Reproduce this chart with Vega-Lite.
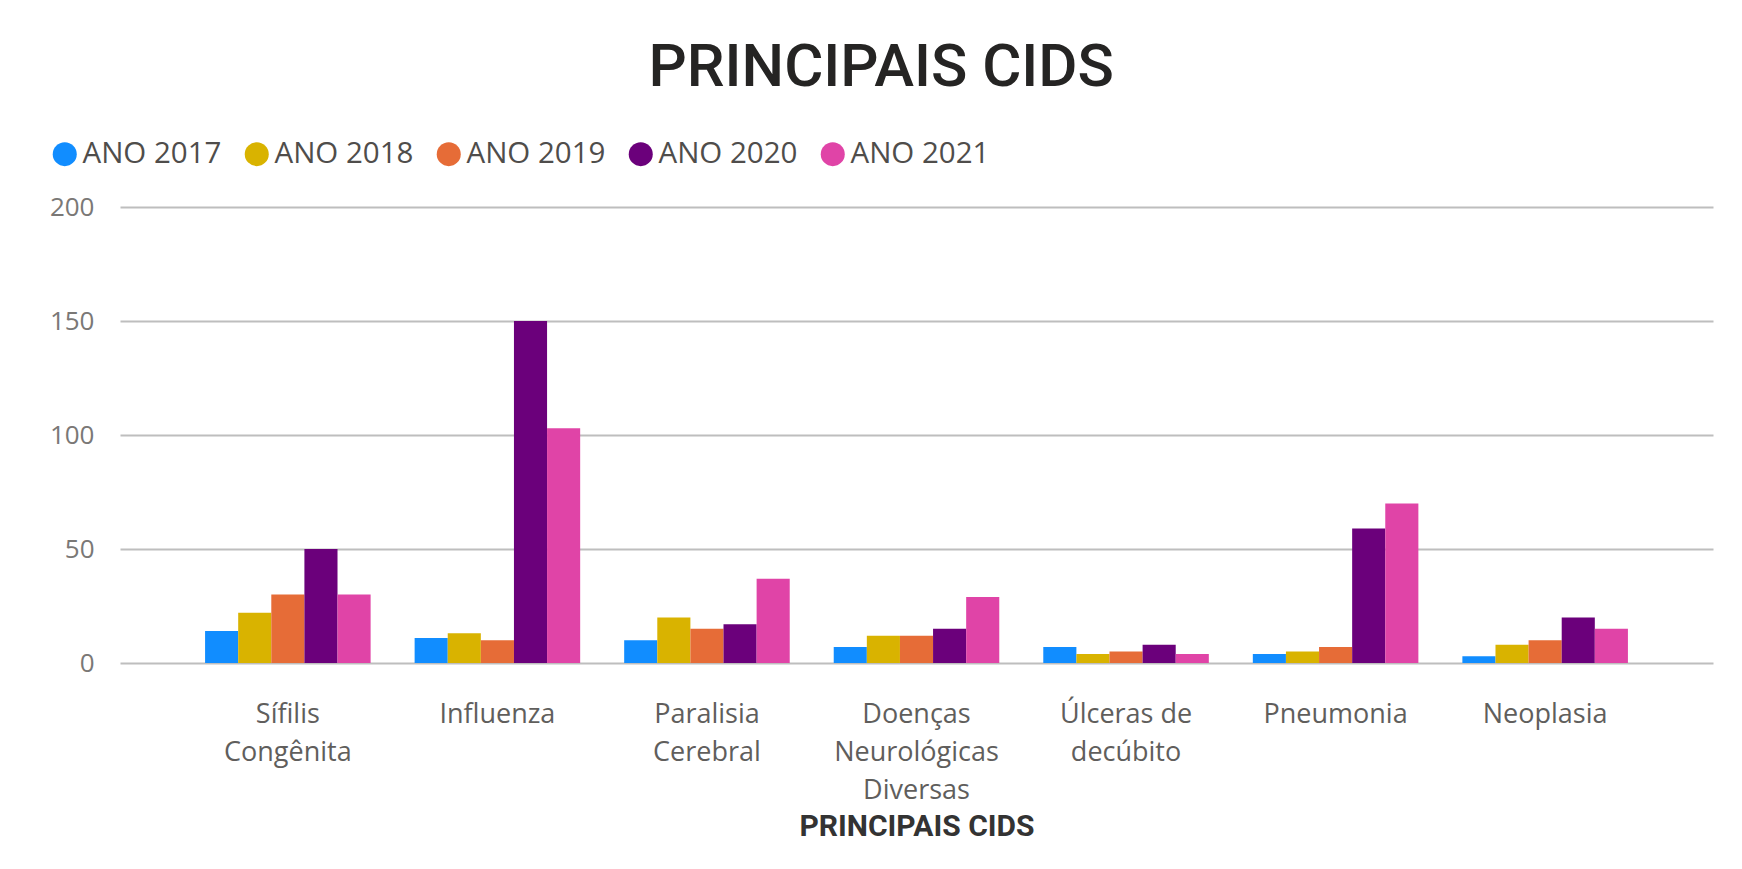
{
  "$schema": "https://vega.github.io/schema/vega-lite/v6.json",
  "width": 1593,
  "height": 456,
  "autosize": {"type": "none"},
  "padding": {"left": 120, "top": 207, "right": 29, "bottom": 206},
  "background": "white",
  "config": {"view": {"stroke": null}},
  "title": {"text": "PRINCIPAIS CIDS", "font": "Roboto", "fontSize": 60, "fontWeight": 500, "color": "#252423", "anchor": "middle", "frame": "bounds", "offset": 40},
  "data": {"values": [
    {"cid": "Sífilis Congênita", "ano": "ANO 2017", "valor": 14},
    {"cid": "Sífilis Congênita", "ano": "ANO 2018", "valor": 22},
    {"cid": "Sífilis Congênita", "ano": "ANO 2019", "valor": 30},
    {"cid": "Sífilis Congênita", "ano": "ANO 2020", "valor": 50},
    {"cid": "Sífilis Congênita", "ano": "ANO 2021", "valor": 30},
    {"cid": "Influenza", "ano": "ANO 2017", "valor": 11},
    {"cid": "Influenza", "ano": "ANO 2018", "valor": 13},
    {"cid": "Influenza", "ano": "ANO 2019", "valor": 10},
    {"cid": "Influenza", "ano": "ANO 2020", "valor": 150},
    {"cid": "Influenza", "ano": "ANO 2021", "valor": 103},
    {"cid": "Paralisia Cerebral", "ano": "ANO 2017", "valor": 10},
    {"cid": "Paralisia Cerebral", "ano": "ANO 2018", "valor": 20},
    {"cid": "Paralisia Cerebral", "ano": "ANO 2019", "valor": 15},
    {"cid": "Paralisia Cerebral", "ano": "ANO 2020", "valor": 17},
    {"cid": "Paralisia Cerebral", "ano": "ANO 2021", "valor": 37},
    {"cid": "Doenças Neurológicas Diversas", "ano": "ANO 2017", "valor": 7},
    {"cid": "Doenças Neurológicas Diversas", "ano": "ANO 2018", "valor": 12},
    {"cid": "Doenças Neurológicas Diversas", "ano": "ANO 2019", "valor": 12},
    {"cid": "Doenças Neurológicas Diversas", "ano": "ANO 2020", "valor": 15},
    {"cid": "Doenças Neurológicas Diversas", "ano": "ANO 2021", "valor": 29},
    {"cid": "Úlceras de decúbito", "ano": "ANO 2017", "valor": 7},
    {"cid": "Úlceras de decúbito", "ano": "ANO 2018", "valor": 4},
    {"cid": "Úlceras de decúbito", "ano": "ANO 2019", "valor": 5},
    {"cid": "Úlceras de decúbito", "ano": "ANO 2020", "valor": 8},
    {"cid": "Úlceras de decúbito", "ano": "ANO 2021", "valor": 4},
    {"cid": "Pneumonia", "ano": "ANO 2017", "valor": 4},
    {"cid": "Pneumonia", "ano": "ANO 2018", "valor": 5},
    {"cid": "Pneumonia", "ano": "ANO 2019", "valor": 7},
    {"cid": "Pneumonia", "ano": "ANO 2020", "valor": 59},
    {"cid": "Pneumonia", "ano": "ANO 2021", "valor": 70},
    {"cid": "Neoplasia", "ano": "ANO 2017", "valor": 3},
    {"cid": "Neoplasia", "ano": "ANO 2018", "valor": 8},
    {"cid": "Neoplasia", "ano": "ANO 2019", "valor": 10},
    {"cid": "Neoplasia", "ano": "ANO 2020", "valor": 20},
    {"cid": "Neoplasia", "ano": "ANO 2021", "valor": 15}
  ]},
  "mark": {"type": "bar"},
  "encoding": {
    "x": {
      "field": "cid", "type": "nominal", "sort": null,
      "scale": {"paddingInner": 0.21, "paddingOuter": 0.406},
      "axis": {
        "title": "PRINCIPAIS CIDS", "titleFont": "Roboto", "titleFontSize": 30, "titleFontWeight": "bold", "titleColor": "#333333", "titlePadding": 8,
        "labelAngle": 0, "labelFont": "Open Sans", "labelFontSize": 27, "labelColor": "#605E5C",
        "labelLineHeight": 38, "labelPadding": 38, "labelLimit": 400,
        "domain": false, "ticks": false, "tickSize": 0, "grid": false,
        "labelExpr": "datum.value == 'Úlceras de decúbito' ? ['Úlceras de', 'decúbito'] : split(datum.value, ' ')"
      }
    },
    "xOffset": {"field": "ano", "type": "nominal", "scale": {"paddingInner": 0, "paddingOuter": 0}},
    "y": {
      "field": "valor", "type": "quantitative",
      "scale": {"domain": [0, 200], "nice": false},
      "axis": {
        "values": [0, 50, 100, 150, 200], "title": null, "domain": false, "ticks": false, "tickSize": 0,
        "labelPadding": 26, "labelFont": "Open Sans", "labelFontSize": 26, "labelColor": "#7A7876",
        "gridColor": "#BEBEBE", "gridWidth": 2
      }
    },
    "color": {
      "field": "ano", "type": "nominal",
      "scale": {"domain": ["ANO 2017", "ANO 2018", "ANO 2019", "ANO 2020", "ANO 2021"], "range": ["#118DFF", "#D9B300", "#E66C37", "#6B007B", "#E044A7"]},
      "legend": {
        "title": null, "orient": "none", "legendX": -70, "legendY": -68, "direction": "horizontal",
        "symbolType": "circle", "symbolSize": 576, "symbolOpacity": 1, "symbolStrokeWidth": 0,
        "labelFont": "Open Sans", "labelFontSize": 29.5, "labelColor": "#4F4D4B", "labelOffset": 3,
        "columnPadding": 20, "padding": 0
      }
    }
  }
}
